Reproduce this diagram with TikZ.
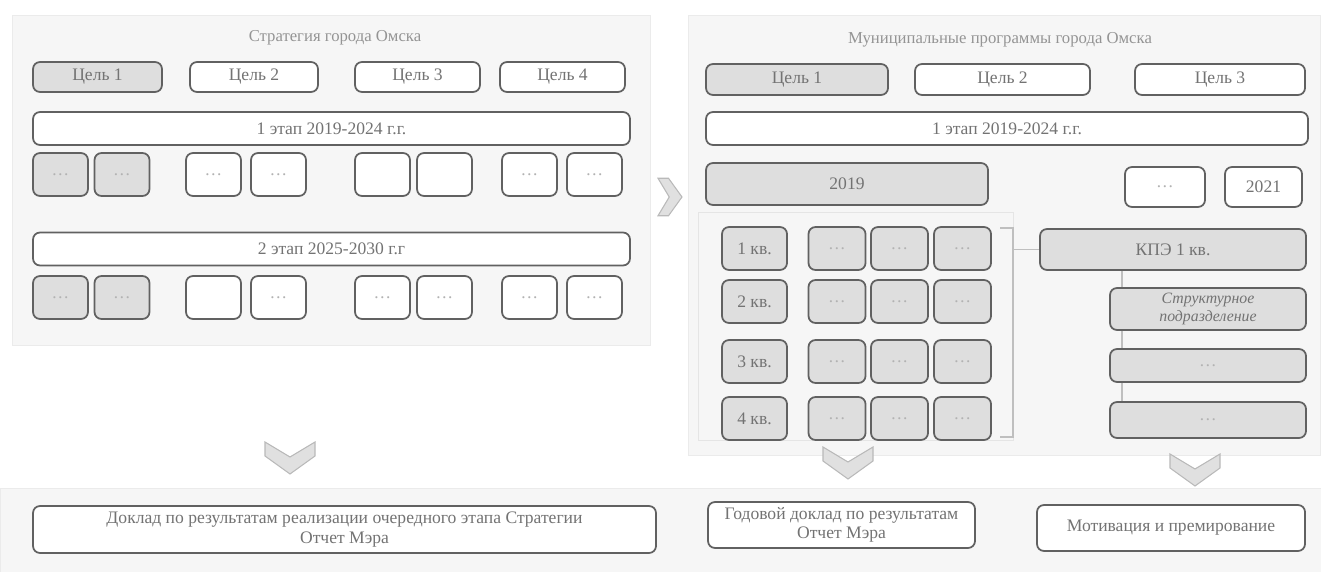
\documentclass[tikz,border=0pt]{standalone}
\usepackage{fontspec}
\setmainfont{Liberation Serif}

\tikzset{
  box/.style={draw=black!62, line width=1pt, rounded corners=4pt, fill=white,
    text=black!55, font=\fontsize{10}{11}\selectfont, inner sep=1pt, align=center},
  gbox/.style={box, fill=gray!26},
  cell/.style={minimum width=1.1cm, minimum height=0.86cm, text=black!30},
  panel/.style={fill=gray!7, draw=gray!16},
  chev/.style={fill=gray!24, draw=gray!55, line width=0.6pt},
  link/.style={draw=gray!50, line width=0.6pt},
  chevdown/.pic={\draw[chev] (-0.5,0.32) -- (0,0.02) -- (0.5,0.32) -- (0.5,0.04)
     -- (0,-0.32) -- (-0.5,0.04) -- cycle;}
}

\begin{document}
\begin{tikzpicture}
  \useasboundingbox (0,0) rectangle (26.42,-11.44);
  % panels
  \draw[panel] (0.24,-0.30) rectangle (13.0,-6.9);
  \draw[panel] (13.76,-0.30) rectangle (26.4,-9.1);
  \draw[panel] (0,-9.76) rectangle (26.42,-11.44);
  \draw[draw=gray!20] (13.96,-4.24) rectangle (20.26,-8.8);

  % left: strategy
  \node[text=black!42, font=\fontsize{9.5}{11}\selectfont] (ltitle) at (6.7,-0.76) {Стратегия города Омска};
  \node[gbox, minimum width=2.58cm, minimum height=0.6cm] (lg1) at (1.95,-1.54) {Цель 1};
  \node[box, minimum width=2.56cm, minimum height=0.6cm] (lg2) at (5.08,-1.54) {Цель 2};
  \node[box, minimum width=2.5cm, minimum height=0.6cm] (lg3) at (8.35,-1.54) {Цель 3};
  \node[box, minimum width=2.5cm, minimum height=0.6cm] (lg4) at (11.25,-1.54) {Цель 4};
  \node[box, minimum width=11.94cm, minimum height=0.66cm] (lst1) at (6.63,-2.57) {1 этап 2019-2024 г.г.};
  \node[box, minimum width=11.94cm, minimum height=0.66cm] (lst2) at (6.63,-4.98) {2 этап 2025-2030 г.г};
  \foreach \x [count=\i] in {1.21,2.44}{
    \node[gbox, cell] (la\i) at (\x,-3.49) {\dots};
    \node[gbox, cell] (lb\i) at (\x,-5.95) {\dots};
  }
  \foreach \x/\t [count=\i from 3] in {4.27/\dots,5.57/\dots,7.65/{},8.89/{},10.59/\dots,11.89/\dots}
    \node[box, cell] (la\i) at (\x,-3.49) {\t};
  \foreach \x/\t [count=\i from 3] in {4.27/{},5.57/\dots,7.65/\dots,8.89/\dots,10.59/\dots,11.89/\dots}
    \node[box, cell] (lb\i) at (\x,-5.95) {\t};

  \pic[rotate=90, scale=0.75] (chvr) at (13.4,-3.94) {chevdown};

  % right: municipal programmes
  \node[text=black!42, font=\fontsize{9.5}{11}\selectfont] (rtitle) at (20.0,-0.8) {Муниципальные программы города Омска};
  \node[gbox, minimum width=3.64cm, minimum height=0.62cm] (rg1) at (15.94,-1.59) {Цель 1};
  \node[box, minimum width=3.5cm, minimum height=0.62cm] (rg2) at (20.05,-1.59) {Цель 2};
  \node[box, minimum width=3.4cm, minimum height=0.62cm] (rg3) at (24.4,-1.59) {Цель 3};
  \node[box, minimum width=12.04cm, minimum height=0.66cm] (rst1) at (20.14,-2.57) {1 этап 2019-2024 г.г.};
  \node[gbox, minimum width=5.64cm, minimum height=0.84cm] (y2019) at (16.94,-3.68) {2019};
  \node[box, cell, minimum width=1.6cm, minimum height=0.8cm] (ydots) at (23.3,-3.74) {\dots};
  \node[box, minimum width=1.54cm, minimum height=0.8cm] (y2021) at (25.27,-3.74) {2021};

  \foreach \y [count=\k] in {-4.97,-6.03,-7.23,-8.37}{
    \node[gbox, minimum width=1.3cm, minimum height=0.86cm] (q\k) at (15.09,\y) {\k~кв.};
    \foreach \x [count=\j] in {16.74,17.99,19.25}
      \node[gbox, cell, minimum width=1.14cm] (m\k\j) at (\x,\y) {\dots};
  }

  \node[gbox, minimum width=5.32cm, minimum height=0.82cm] (kpe) at (23.46,-4.99) {КПЭ 1 кв.};
  \node[gbox, minimum width=3.92cm, minimum height=0.84cm, font=\fontsize{9}{10}\selectfont\itshape] (unit) at (24.16,-6.18) {Структурное\\подразделение};
  \node[gbox, cell, minimum width=3.92cm, minimum height=0.66cm] (kd1) at (24.16,-7.31) {\dots};
  \node[gbox, cell, minimum width=3.92cm, minimum height=0.72cm] (kd2) at (24.16,-8.4) {\dots};

  % links
  \coordinate (brtop) at (20.26,-4.56);
  \coordinate (brbot) at (20.26,-8.74);
  \draw[link] (20.0,-4.56) -- (brtop) -- (brbot) -- (20.0,-8.74);
  \draw[link] (kpe.west -| brtop) -- (kpe.west);
  \coordinate (spine) at (22.44,0);
  \draw[link] (kpe.south -| spine) -- (unit.north -| spine);
  \draw[link] (unit.south -| spine) -- (kd1.north -| spine);
  \draw[link] (kd1.south -| spine) -- (kd2.north -| spine);

  % down arrows
  \pic (chv1) at (5.8,-9.16) {chevdown};
  \pic (chv2) at (16.96,-9.26) {chevdown};
  \pic (chv3) at (23.9,-9.4) {chevdown};

  % results
  \node[box, minimum width=12.46cm, minimum height=0.94cm] (rep1) at (6.89,-10.59)
    {Доклад по результатам реализации очередного этапа Стратегии\\Отчет Мэра};
  \node[box, minimum width=5.34cm, minimum height=0.92cm] (rep2) at (16.83,-10.5)
    {Годовой доклад по результатам\\Отчет Мэра};
  \node[box, minimum width=5.36cm, minimum height=0.92cm] (rep3) at (23.42,-10.56)
    {Мотивация и премирование};
\end{tikzpicture}
\end{document}
